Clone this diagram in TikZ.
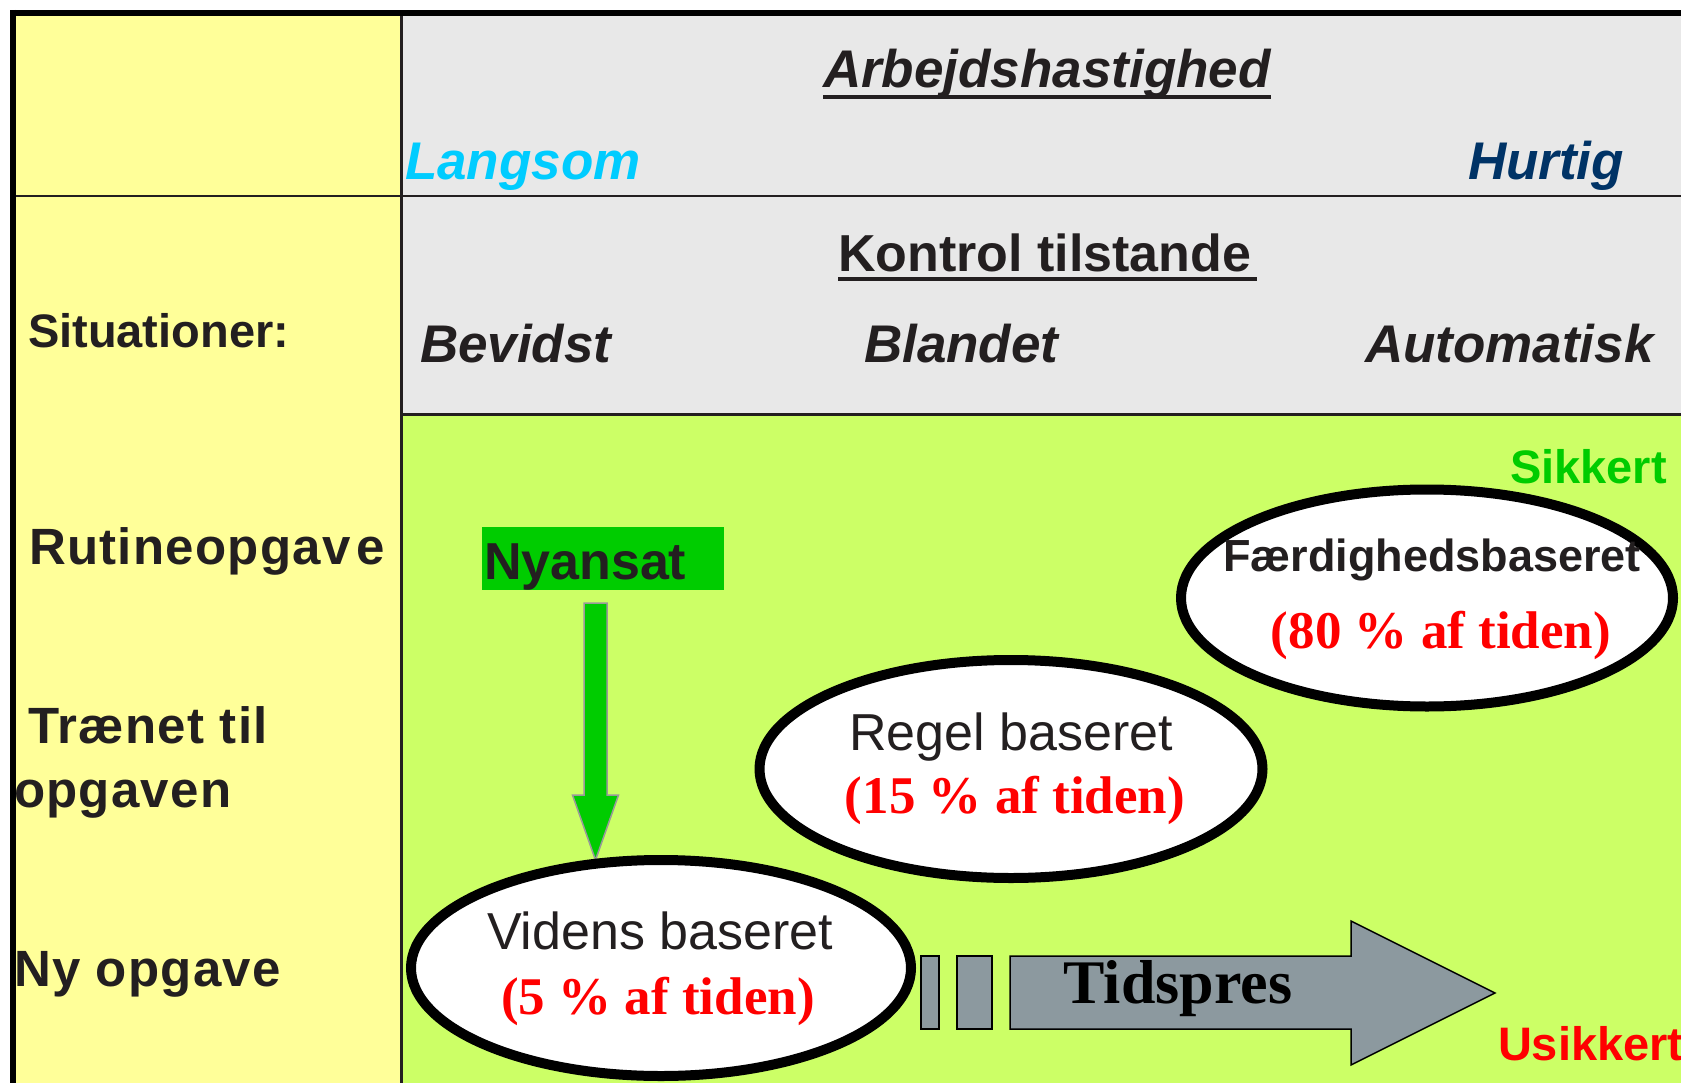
\documentclass[tikz,border=0pt]{standalone}
\usepackage{fontspec}
\setmainfont{Liberation Sans}
\newfontfamily\tnr{Liberation Serif}
\newfontfamily\wideb[LetterSpace=2.5]{Liberation Sans}
\usetikzlibrary{shapes.geometric}
\definecolor{ylw}{HTML}{FFFF99}
\definecolor{gbg}{HTML}{E8E8E8}
\definecolor{grn}{HTML}{CCFF66}
\definecolor{cyn}{HTML}{00CCFF}
\definecolor{navy}{HTML}{003366}
\definecolor{sgreen}{HTML}{00CC00}
\definecolor{ink}{HTML}{231F20}
\definecolor{tgray}{HTML}{8C999F}
\definecolor{agray}{HTML}{999999}
\tikzset{
  txt/.style={inner sep=0pt, outer sep=0pt, text=ink},
  hdr/.style={txt, font=\fontsize{53}{60}\selectfont\bfseries\itshape},
  hdrup/.style={txt, font=\fontsize{52}{60}\selectfont\bfseries},
  lbl/.style={txt, font=\wideb\fontsize{51}{60}\selectfont\bfseries},
  plain/.style={txt, font=\fontsize{52}{60}\selectfont},
  pct/.style={txt, text=red, font=\fontsize{53}{60}\selectfont\tnr\bfseries},
  oval/.style={ellipse, draw=black, line width=10pt, fill=white, inner sep=0pt},
  blockshape/.style={fill=tgray, draw=black, line width=1.5pt, line join=miter},
}
\begin{document}
\begin{tikzpicture}[x=1pt,y=-1pt]
\useasboundingbox (0,0) rectangle (1681,1083);
% backgrounds
\fill[white] (0,0) rectangle (1681,1083);
\fill[ylw] (13,13) rectangle (401,1083);
\fill[gbg] (401,13) rectangle (1681,414.5);
\fill[grn] (401,414.5) rectangle (1681,1083);
% grid lines
\draw[line width=3pt, ink] (401,13) -- (401,1083);
\draw[line width=2.5pt, ink] (13,196) -- (1681,196);
\draw[line width=3pt, ink] (401,414.5) -- (1681,414.5);
\draw[line width=6pt, black] (10,13) -- (1681,13);
\draw[line width=6pt, black] (13,10) -- (13,1083);

% header texts
\node[hdr, anchor=base west] (arb) at (823,88) {Arbejdshastighed};
\draw[line width=4pt, ink] ([yshift=-9pt]arb.base west) -- ([yshift=-9pt]arb.base east);
\node[hdr, anchor=base west, text=cyn] (lang) at (405,180) {Langsom};
\node[hdr, anchor=base west, text=navy] (hurt) at (1468,180) {Hurtig};
\node[hdrup, anchor=base west] (kon) at (838,272) {Kontrol tilstande};
\draw[line width=4pt, ink] ([yshift=-7pt]kon.base west) -- ([xshift=6pt,yshift=-7pt]kon.base east);
\node[hdr, anchor=base west] (bev) at (420,362) {Bevidst};
\node[hdr, anchor=base west] (bla) at (864,362) {Blandet};
\node[hdr, anchor=base west] (aut) at (1365,362) {Automatisk};

% left column
\node[txt, anchor=base west, font=\fontsize{47}{55}\selectfont\bfseries] (sit) at (28,347) {Situationer:};
\node[lbl, anchor=base west] (rut) at (29,564) {Rutineopgav\kern6pt e};
\node[lbl, anchor=base west] (tra) at (28,743) {Trænet til};
\node[lbl, anchor=base west] (opg) at (14,807) {opgaven};
\node[lbl, anchor=base west] (ny) at (14,986) {Ny opgave};

% safety labels
\node[txt, anchor=base west, text=sgreen, font=\fontsize{47}{55}\selectfont\bfseries] (sik) at (1510,483) {Sikkert};
\node[txt, anchor=base west, text=red, font=\fontsize{47}{55}\selectfont\bfseries] (usik) at (1498,1060) {Usikkert};

% Nyansat box
\fill[sgreen] (482,527) rectangle (724,590);
\node[txt, anchor=base west, font=\fontsize{52}{60}\selectfont\bfseries] (nyan) at (484,579) {Nyansat};

% green arrow
\coordinate (atop) at (595.5,603);
\coordinate (atip) at (595.5,860);
\draw[fill=sgreen, draw=agray, line width=1.5pt]
  ([xshift=-11.5pt]atop) -- ([xshift=11.5pt]atop) -- (607,795) -- (618.5,795) -- (atip)
  -- (572.5,795) -- (584,795) -- cycle;

% ellipses
\node[oval, minimum width=500pt, minimum height=216pt] (vid) at (661,968) {};
\node[oval, minimum width=503pt, minimum height=218pt] (reg) at (1011,769) {};
\node[oval, minimum width=492pt, minimum height=217pt] (fae) at (1427,598) {};

\node[plain, anchor=base] (vidt) at (660,949) {Videns baseret};
\node[pct, anchor=base] (vidp) at (658,1014) {(5 \% af tiden)};
\node[plain, anchor=base] (regt) at (1011,750) {Regel baseret};
\node[pct, anchor=base] (regp) at (1015,813) {(15 \% af tiden)};
\node[txt, anchor=base, font=\fontsize{45}{52}\selectfont\bfseries] (faet) at (1432,571) {Færdighedsbaseret};
\node[pct, anchor=base] (faep) at (1441,648) {(80 \% af tiden)};

% Tidspres arrow
\draw[blockshape] (921,956) rectangle (939,1029);
\draw[blockshape] (957,956) rectangle (992,1029);
\draw[blockshape] (1010,956) -- (1351,956) -- (1351,921) -- (1495,993) -- (1351,1065) -- (1351,1029) -- (1010,1029) -- cycle;
\node[txt, anchor=base, text=black, font=\fontsize{62}{70}\selectfont\tnr\bfseries] (tid) at (1178,1003) {Tidspres};
\end{tikzpicture}
\end{document}
